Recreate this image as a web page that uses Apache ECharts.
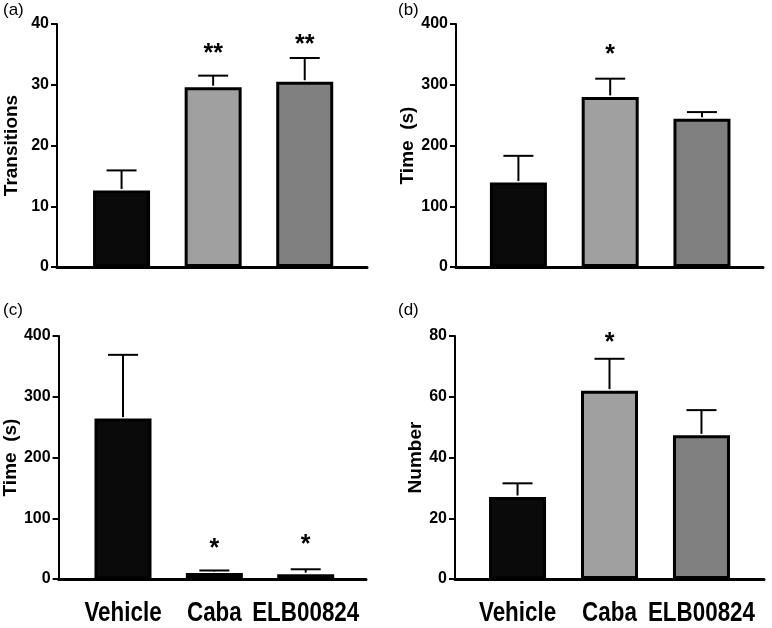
<!DOCTYPE html>
<html><head><meta charset="utf-8">
<script src="https://cdn.jsdelivr.net/npm/echarts@6/dist/echarts.min.js"></script>
<style>html,body{margin:0;padding:0;background:#fff}#c{width:772px;height:628px}</style>
</head><body><div id="c"></div>
<script>
var categories = ['Vehicle', 'Caba', 'ELB00824'];
var barColors = ['#0a0a0a', '#a0a0a0', '#808080'];

var transMean = [12.6, 29.6, 30.5];
var transSem = [3.3, 1.9, 3.9];
var transStars = ['', '**', '**'];
var transStarY = [0, 35.0, 36.5];

var timeBMean = [139, 280, 244];
var timeBSem = [44, 30, 11];
var timeBStars = ['', '*', ''];
var timeBStarY = [0, 348, 0];

var timeCMean = [264, 10, 8];
var timeCSem = [105, 4, 8];
var timeCStars = ['', '*', '*'];
var timeCStarY = [0, 50, 55];

var numMean = [27, 62, 47.3];
var numSem = [4.5, 10.5, 8.3];
var numStars = ['', '*', ''];
var numStarY = [0, 77.5, 0];

var yTicksA = [0, 10, 20, 30, 40];
var yTicksB = [0, 100, 200, 300, 400];
var yTicksC = [0, 100, 200, 300, 400];
var yTicksD = [0, 20, 40, 60, 80];

var panels = [
  {mean: transMean, sem: transSem, stars: transStars, starY: transStarY, ticks: yTicksA, name: 'Transitions', tag: '(a)',
   grid: {left: 57, top: 24, width: 310, height: 243}, xr: [-0.705, 2.68], nameGap: 36, showX: false},
  {mean: timeBMean, sem: timeBSem, stars: timeBStars, starY: timeBStarY, ticks: yTicksB, name: 'Time  (s)', tag: '(b)',
   grid: {left: 456, top: 24, width: 307, height: 243}, xr: [-0.68, 2.665], nameGap: 37, showX: false},
  {mean: timeCMean, sem: timeCSem, stars: timeCStars, starY: timeCStarY, ticks: yTicksC, name: 'Time  (s)', tag: '(c)',
   grid: {left: 58, top: 336, width: 308, height: 243}, xr: [-0.705, 2.66], nameGap: 37, showX: true},
  {mean: numMean, sem: numSem, stars: numStars, starY: numStarY, ticks: yTicksD, name: 'Number', tag: '(d)',
   grid: {left: 455, top: 336, width: 309, height: 243}, xr: [-0.68, 2.68], nameGap: 30, showX: true}
];

var grids = [], xAxes = [], yAxes = [], series = [], graphics = [];
panels.forEach(function (p, i) {
  grids.push(p.grid);
  xAxes.push({
    type: 'value', gridIndex: i, min: p.xr[0], max: p.xr[1],
    axisLine: {show: true, onZero: false, lineStyle: {color: '#000', width: 3}},
    axisTick: {show: false}, splitLine: {show: false},
    axisLabel: {show: false}
  });
  var t = p.ticks;
  yAxes.push({
    type: 'value', gridIndex: i, min: t[0], max: t[t.length - 1], interval: t[1] - t[0],
    name: p.name, nameLocation: 'middle', nameGap: p.nameGap,
    nameTextStyle: {fontFamily: '"Liberation Sans", Arial', fontWeight: 'bold', fontSize: 19, color: '#000'},
    axisLine: {show: true, onZero: false, lineStyle: {color: '#000', width: 2}},
    axisTick: {show: true, length: 6, lineStyle: {color: '#000', width: 2}},
    splitLine: {show: false},
    axisLabel: {margin: 8, fontFamily: '"Liberation Sans", Arial', fontWeight: 'bold', fontSize: 16, color: '#000'}
  });
  series.push({
    type: 'bar', xAxisIndex: i, yAxisIndex: i, barWidth: 57,
    data: p.mean.map(function (m, k) {
      return {value: [k, m], itemStyle: {color: barColors[k], borderColor: '#000', borderWidth: 3}};
    }),
    z: 2, animation: false
  });
  series.push({
    type: 'custom', xAxisIndex: i, yAxisIndex: i, z: 3, animation: false,
    data: p.mean.map(function (m, k) { return [k, m, m + p.sem[k]]; }),
    renderItem: function (params, api) {
      var x = api.value(0);
      var a = api.coord([x, api.value(1)]);
      var b = api.coord([x, api.value(2)]);
      var cap = 15;
      return {type: 'group', children: [
        {type: 'line', shape: {x1: a[0], y1: a[1] - 1.5, x2: b[0], y2: b[1]}, style: {stroke: '#000', lineWidth: 2}},
        {type: 'line', shape: {x1: b[0] - cap, y1: b[1], x2: b[0] + cap, y2: b[1]}, style: {stroke: '#000', lineWidth: 2}}
      ]};
    }
  });
  series.push({
    type: 'custom', xAxisIndex: i, yAxisIndex: i, z: 4, animation: false,
    data: p.stars.map(function (s, k) { return [k, p.starY[k], s]; }),
    renderItem: function (params, api) {
      var s = p.stars[params.dataIndex];
      if (!s) return null;
      var c = api.coord([api.value(0), api.value(1)]);
      return {type: 'text', x: c[0], y: c[1], style: {text: s, align: 'center', verticalAlign: 'middle',
        font: 'bold 25px "Liberation Sans", Arial', fill: '#000'}};
    }
  });
  if (p.showX) {
    // category labels, positioned through the x scale (condensed bold look)
    series.push({
      type: 'custom', xAxisIndex: i, yAxisIndex: i, z: 5, animation: false, clip: false,
      data: categories.map(function (c, k) { return [k, 0]; }),
      renderItem: function (params, api) {
        var c = api.coord([api.value(0), 0]);
        return {type: 'text', x: c[0], y: c[1] + 34, scaleX: 0.8, style: {text: categories[params.dataIndex],
          align: 'center', verticalAlign: 'middle', font: 'bold 28px "Liberation Sans", Arial', fill: '#000'}};
      }
    });
  }
});

graphics = [
  {type: 'text', left: 3, top: 2, style: {text: '(a)', font: '17px "Liberation Sans", Arial', fill: '#000'}},
  {type: 'text', left: 398, top: 2, style: {text: '(b)', font: '17px "Liberation Sans", Arial', fill: '#000'}},
  {type: 'text', left: 3, top: 302, style: {text: '(c)', font: '17px "Liberation Sans", Arial', fill: '#000'}},
  {type: 'text', left: 398, top: 302, style: {text: '(d)', font: '17px "Liberation Sans", Arial', fill: '#000'}}
];

var chart = echarts.init(document.getElementById('c'), null, {renderer: 'canvas'});
chart.setOption({
  animation: false,
  backgroundColor: '#fff',
  grid: grids, xAxis: xAxes, yAxis: yAxes, series: series, graphic: graphics
});
</script></body></html>
